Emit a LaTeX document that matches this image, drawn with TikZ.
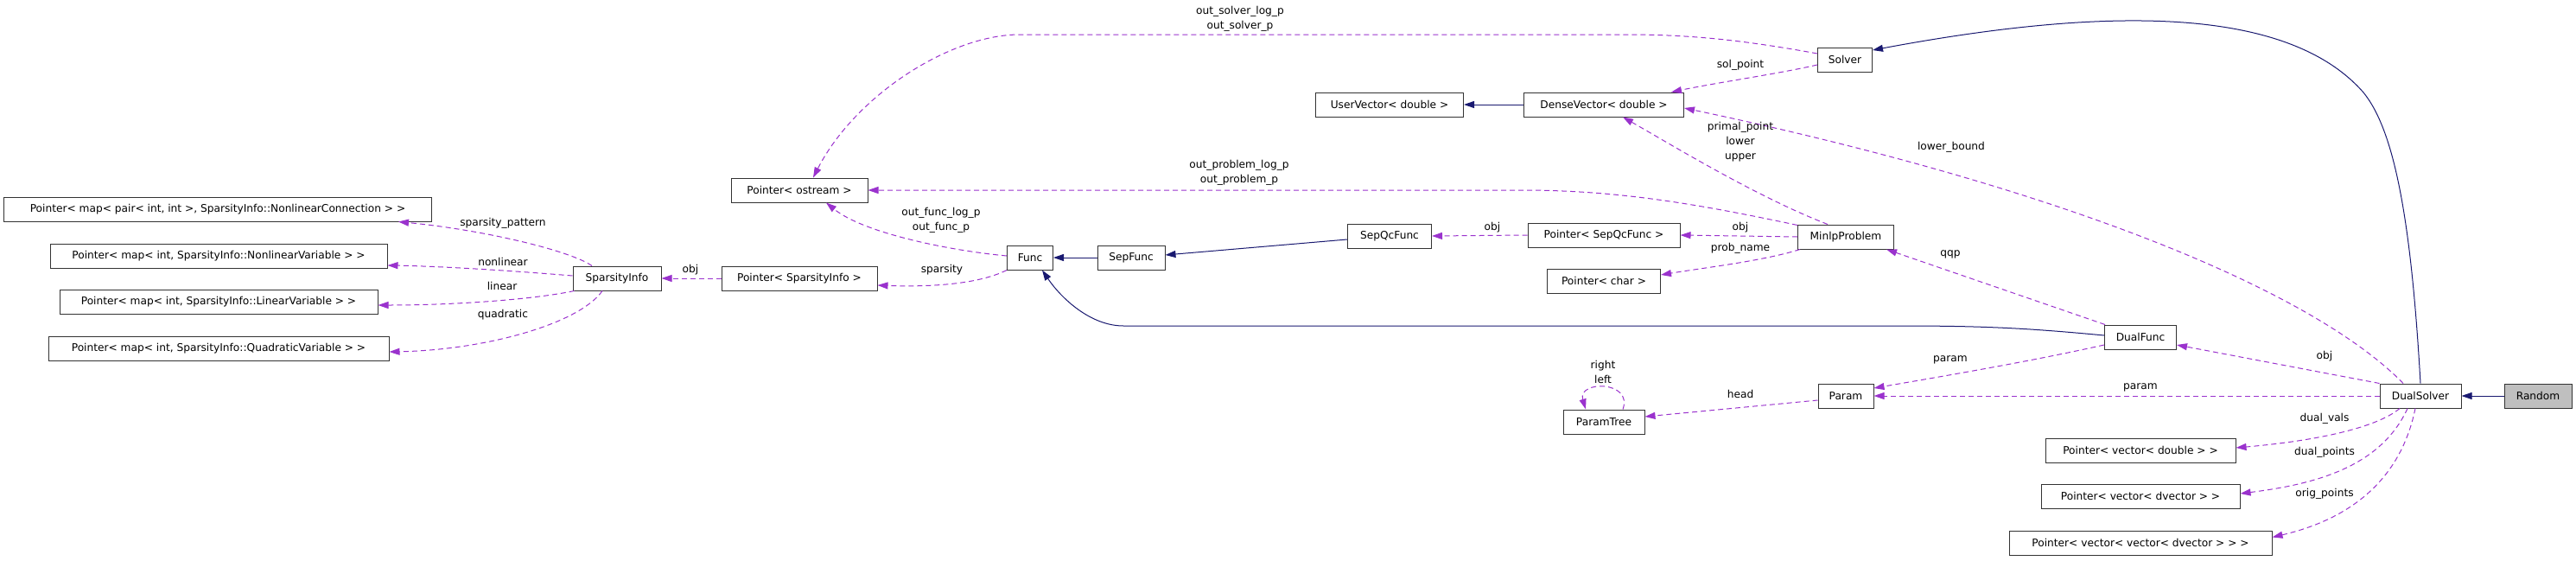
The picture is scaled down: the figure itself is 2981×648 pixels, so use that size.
\documentclass[tikz,border=0pt]{standalone}
\usepackage{fontspec}
\setmainfont{DejaVu Sans}
\usetikzlibrary{arrows.meta}
\definecolor{usesColor}{HTML}{9A32CD}
\definecolor{inheritColor}{HTML}{191970}
\definecolor{leafGray}{HTML}{BFBFBF}
\begin{document}
\begin{tikzpicture}[x=1pt, y=-1pt,
  classStyle/.style={rectangle, draw=black!80, line width=1pt, fill=white, minimum height=28pt, inner sep=0pt, font=\fontsize{12.2}{14}\selectfont},
  rootStyle/.style={classStyle, fill=leafGray},
  usesStyle/.style={draw=usesColor, line width=1pt, dash pattern=on 6pt off 4pt, -{Triangle[length=12pt, width=8pt, fill=usesColor, sep=0pt]}},
  inheritStyle/.style={draw=inheritColor, line width=1pt, -{Triangle[length=12pt, width=8pt, fill=inheritColor]}},
  labelStyle/.style={inner sep=0pt, align=center, font=\fontsize{12.2}{17}\selectfont}]
  \useasboundingbox (0,0) rectangle (2981,648);

  \node[classStyle, minimum width=495pt] (ptr_conn)    at ( 252,242) {Pointer< map< pair< int, int >, SparsityInfo::NonlinearConnection > >};
  \node[classStyle, minimum width=390pt] (ptr_nlvar)   at ( 253,296) {Pointer< map< int, SparsityInfo::NonlinearVariable > >};
  \node[classStyle, minimum width=368pt] (ptr_linvar)  at ( 253,349) {Pointer< map< int, SparsityInfo::LinearVariable > >};
  \node[classStyle, minimum width=394pt] (ptr_quadvar) at ( 253,403) {Pointer< map< int, SparsityInfo::QuadraticVariable > >};
  \node[classStyle, minimum width=102pt] (sparsity)    at ( 714,322) {SparsityInfo};
  \node[classStyle, minimum width=180pt] (ptr_sparsity) at ( 925,322) {Pointer< SparsityInfo >};
  \node[classStyle, minimum width=158pt] (ptr_ostream) at ( 925,220) {Pointer< ostream >};
  \node[classStyle, minimum width=53pt]  (func)        at (1192,298) {Func};
  \node[classStyle, minimum width=78pt]  (sepfunc)     at (1309,298) {SepFunc};
  \node[classStyle, minimum width=97pt]  (sepqc)       at (1608,273) {SepQcFunc};
  \node[classStyle, minimum width=176pt] (ptr_sepqc)   at (1856,272) {Pointer< SepQcFunc >};
  \node[classStyle, minimum width=111pt] (minlp)       at (2136,274) {MinlpProblem};
  \node[classStyle, minimum width=131pt] (ptr_char)    at (1856,325) {Pointer< char >};
  \node[classStyle, minimum width=171pt] (uservec)     at (1608,121) {UserVector< double >};
  \node[classStyle, minimum width=185pt] (densevec)    at (1856,121) {DenseVector< double >};
  \node[classStyle, minimum width=63pt]  (solver)      at (2135,69)  {Solver};
  \node[classStyle, minimum width=83pt]  (dualfunc)    at (2477,390) {DualFunc};
  \node[classStyle, minimum width=94pt]  (dualsolver)  at (2801,458) {DualSolver};
  \node[rootStyle,  minimum width=78pt]  (random)      at (2937,458) {Random};
  \node[classStyle, minimum width=220pt] (ptr_vdouble) at (2477,521) {Pointer< vector< double > >};
  \node[classStyle, minimum width=230pt] (ptr_vdvec)   at (2477,574) {Pointer< vector< dvector > >};
  \node[classStyle, minimum width=304pt] (ptr_vvdvec)  at (2477,628) {Pointer< vector< vector< dvector > > >};
  \node[classStyle, minimum width=64pt]  (param)       at (2136,458) {Param};
  \node[classStyle, minimum width=94pt]  (paramtree)   at (1856,488) {ParamTree};

  \draw[usesStyle] ([xshift=-29pt]sparsity.north) .. controls (660,290) and (560,266) .. ([xshift=-39pt]ptr_conn.south east);
  \draw[usesStyle] ([yshift=3pt]sparsity.west) .. controls (590,313) and (510,308) .. ([yshift=-11pt]ptr_nlvar.east);
  \draw[usesStyle] ([xshift=2pt]sparsity.south west) .. controls (620,346) and (530,353) .. ([yshift=-4pt]ptr_linvar.east);
  \draw[usesStyle] ([xshift=-17pt]sparsity.south) .. controls (670,375) and (560,405) .. ([yshift=-4pt]ptr_quadvar.east);
  \draw[usesStyle] (ptr_sparsity.west) -- (sparsity.east);
  \draw[usesStyle] (func.south west) .. controls (1130,330) and (1070,332) .. ([yshift=-8pt]ptr_sparsity.east);
  \draw[usesStyle] ([yshift=2pt]func.west) .. controls (1100,290) and (1000,270) .. ([xshift=31pt]ptr_ostream.south);
  \draw[inheritStyle] (sepfunc.west) -- (func.east);
  \draw[inheritStyle] ([yshift=-4pt]sepqc.west) -- ([yshift=3pt]sepfunc.east);
  \draw[usesStyle] (ptr_sepqc.west) -- (sepqc.east);
  \draw[usesStyle] (minlp.west) -- (ptr_sepqc.east);
  \draw[usesStyle] ([xshift=3pt]minlp.south west) .. controls (2040,302) and (1970,310) .. ([yshift=7pt]ptr_char.east);
  \draw[usesStyle] ([xshift=-21pt]minlp.north) .. controls (2033,228) and (1930,165) .. ([xshift=22pt]densevec.south);
  \draw[usesStyle] ([yshift=-1pt]minlp.north west) .. controls (1960,235) and (1870,220) .. (1760,220) -- (ptr_ostream.east);
  \draw[inheritStyle] (densevec.west) -- (uservec.east);
  \draw[usesStyle] ([yshift=-6pt]solver.west) .. controls (2060,85) and (1990,95) .. ([xshift=-15pt]densevec.north east);
  \draw[usesStyle] ([yshift=7pt]solver.west) .. controls (2010,45) and (1950,40) .. (1880,40) -- (1180,40) .. controls (1100,40) and (990,110) .. ([xshift=16pt]ptr_ostream.north);
  \draw[usesStyle] ([xshift=1pt]dualfunc.north west) -- ([xshift=-9pt]minlp.south east);
  \draw[inheritStyle] ([yshift=2pt]dualfunc.west) .. controls (2350,380) and (2300,377) .. (2200,377) -- (1300,377) .. controls (1262,377) and (1228,345) .. ([xshift=14pt]func.south);
  \draw[usesStyle] ([yshift=-9pt]dualfunc.west) .. controls (2350,418) and (2250,435) .. ([yshift=9pt]param.east);
  \draw[usesStyle] (dualsolver.north west) -- ([yshift=-9pt]dualfunc.east);
  \draw[usesStyle] ([xshift=-20pt]dualsolver.north) .. controls (2680,340) and (2400,220) .. ([yshift=-4pt]densevec.east);
  \draw[inheritStyle] (dualsolver.north) .. controls (2790,250) and (2770,150) .. (2735,107) .. controls (2650,10) and (2450,5) .. ([yshift=11pt]solver.east);
  \draw[usesStyle] (dualsolver.west) -- (param.east);
  \draw[usesStyle] ([xshift=-24pt]dualsolver.south) .. controls (2750,495) and (2680,510) .. ([yshift=3pt]ptr_vdouble.east);
  \draw[usesStyle] ([xshift=-15pt]dualsolver.south) .. controls (2755,540) and (2680,560) .. ([yshift=3pt]ptr_vdvec.east);
  \draw[usesStyle] ([xshift=-6pt]dualsolver.south) .. controls (2775,570) and (2700,605) .. ([yshift=-8pt]ptr_vvdvec.north east);
  \draw[inheritStyle] (random.west) -- (dualsolver.east);
  \draw[usesStyle] ([yshift=-5pt]param.west) -- ([yshift=6pt]paramtree.east);
  \draw[usesStyle] ([xshift=22pt]paramtree.north) .. controls (1890,440) and (1825,440) .. ([xshift=-21pt]paramtree.north);

  \node[labelStyle] (lbl_pattern)   at ( 582,258) {sparsity\_pattern};
  \node[labelStyle] (lbl_nonlinear) at ( 582,303) {nonlinear};
  \node[labelStyle] (lbl_linear)    at ( 581,331) {linear};
  \node[labelStyle] (lbl_quadratic) at ( 582,364) {quadratic};
  \node[labelStyle] (lbl_obj1)      at ( 799,312) {obj};
  \node[labelStyle] (lbl_sparsity)  at (1090,312) {sparsity};
  \node[labelStyle] (lbl_funcout)   at (1089,255) {out\_func\_log\_p\\out\_func\_p};
  \node[labelStyle] (lbl_probout)   at (1434,200) {out\_problem\_log\_p\\out\_problem\_p};
  \node[labelStyle] (lbl_solvout)   at (1435,22)  {out\_solver\_log\_p\\out\_solver\_p};
  \node[labelStyle] (lbl_obj2)      at (1727,263) {obj};
  \node[labelStyle] (lbl_obj3)      at (2014,263) {obj};
  \node[labelStyle] (lbl_probname)  at (2014,287) {prob\_name};
  \node[labelStyle] (lbl_solpoint)  at (2014,75)  {sol\_point};
  \node[labelStyle] (lbl_primal)    at (2014,164) {primal\_point\\lower\\upper};
  \node[labelStyle] (lbl_lower)     at (2258,170) {lower\_bound};
  \node[labelStyle] (lbl_qqp)       at (2257,294) {qqp};
  \node[labelStyle] (lbl_param1)    at (2257,416) {param};
  \node[labelStyle] (lbl_param2)    at (2477,448) {param};
  \node[labelStyle] (lbl_obj4)      at (2690,412) {obj};
  \node[labelStyle] (lbl_dualvals)  at (2690,484) {dual\_vals};
  \node[labelStyle] (lbl_dualpts)   at (2690,523) {dual\_points};
  \node[labelStyle] (lbl_origpts)   at (2690,571) {orig\_points};
  \node[labelStyle] (lbl_head)      at (2014,456) {head};
  \node[labelStyle] (lbl_tree)      at (1855,430) {right\\left};
\end{tikzpicture}
\end{document}
